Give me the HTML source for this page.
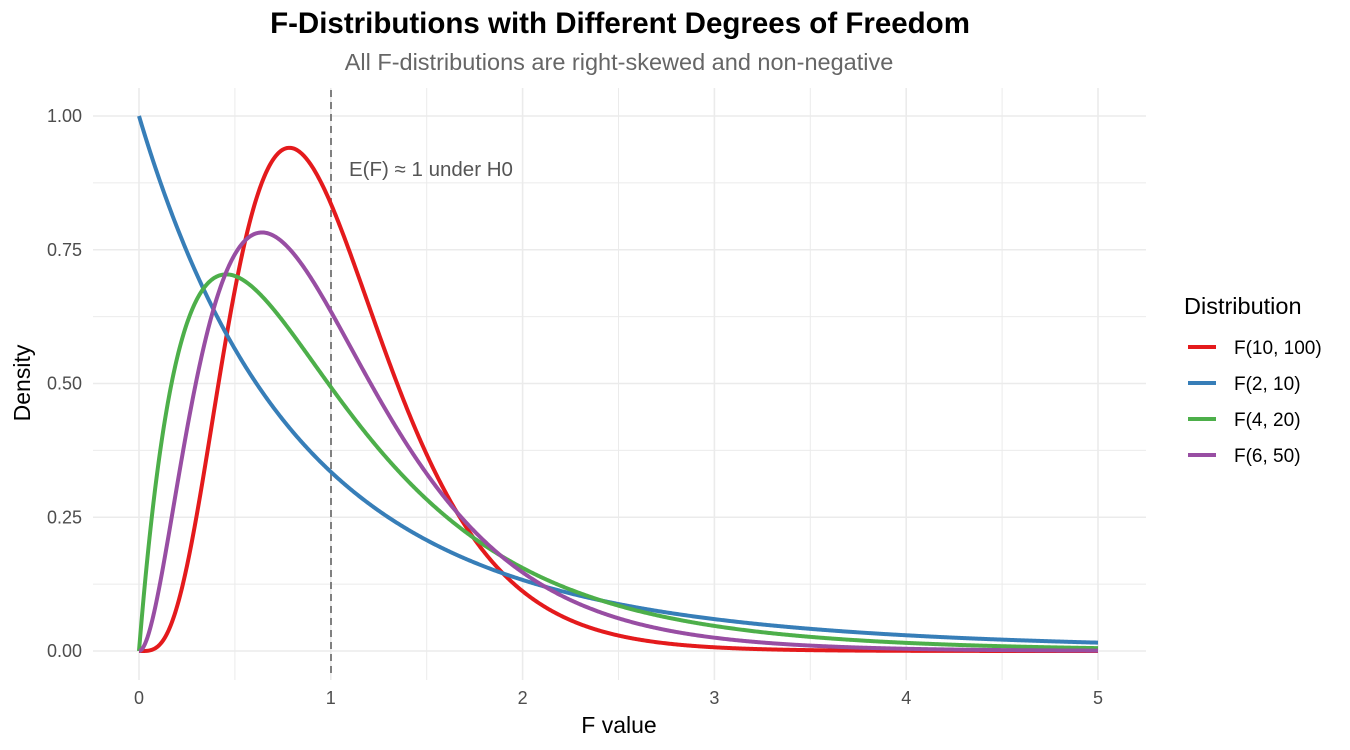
<!DOCTYPE html>
<html><head><meta charset="utf-8"><style>body{margin:0;background:#fff}svg{display:block}text{font-family:"Liberation Sans",Arial,sans-serif}</style></head>
<body>
<svg id="s" width="1350" height="750" xmlns="http://www.w3.org/2000/svg">
<g id="grid"></g>
<line x1="331" y1="90" x2="331" y2="678" stroke="#808080" stroke-width="2" stroke-dasharray="7,5"/>
<text x="349" y="176" font-size="20.5" fill="#555">E(F) ≈ 1 under H0</text>
<g id="curves"></g>
<text x="620" y="33" font-size="29.5" font-weight="bold" text-anchor="middle" fill="#000">F-Distributions with Different Degrees of Freedom</text>
<text x="619" y="70" font-size="23.5" text-anchor="middle" fill="#666">All F-distributions are right-skewed and non-negative</text>
<text x="619" y="733" font-size="23" text-anchor="middle" fill="#000">F value</text>
<text x="30" y="383" font-size="23" text-anchor="middle" fill="#000" transform="rotate(-90 30 383)">Density</text>
<text x="1184" y="314" font-size="23.5" fill="#000">Distribution</text>
<g id="legend"></g>
</svg>
<script>
const X0=139,XS=191.8,Y0=651,YS=535;
const px=x=>X0+x*XS, py=y=>Y0-y*YS;
let g='';
for(let i=0;i<=10;i++){const v=i/2,x=px(v);g+=`<line x1="${x}" y1="88" x2="${x}" y2="680" stroke="#ebebeb" stroke-width="${i%2?1:1.6}"/>`;}
for(let i=0;i<=8;i++){const v=i/8,y=py(v);g+=`<line x1="93" y1="${y}" x2="1146" y2="${y}" stroke="#ebebeb" stroke-width="${i%2?1:1.6}"/>`;}
for(let i=0;i<=5;i++)g+=`<text x="${px(i)}" y="704" font-size="18" text-anchor="middle" fill="#4d4d4d">${i}</text>`;
['0.00','0.25','0.50','0.75','1.00'].forEach((t,i)=>g+=`<text x="82" y="${py(i/4)+6}" font-size="18" text-anchor="end" fill="#4d4d4d">${t}</text>`);
document.getElementById('grid').innerHTML=g;
function lg(z){const c=[76.18009172947146,-86.50532032941677,24.01409824083091,-1.231739572450155,0.1208650973866179e-2,-0.5395239384953e-5];let x=z,y=z,t=x+5.5;t-=(x+0.5)*Math.log(t);let s=1.000000000190015;for(let j=0;j<6;j++)s+=c[j]/++y;return -t+Math.log(2.5066282746310005*s/x);}
function f(x,a,b){if(x<=0)return a==2?1:0;const lb=lg(a/2)+lg(b/2)-lg((a+b)/2);return Math.exp(0.5*(a*Math.log(a*x)+b*Math.log(b)-(a+b)*Math.log(a*x+b))-Math.log(x)-lb);}
const S=[[10,100,'#e41a1c','F(10, 100)'],[2,10,'#377eb8','F(2, 10)'],[4,20,'#4daf4a','F(4, 20)'],[6,50,'#984ea3','F(6, 50)']];
let c='',l='';
S.forEach((s,k)=>{let d='';for(let i=0;i<=1000;i++){const x=i*0.005;d+=(i?'L':'M')+px(x).toFixed(2)+','+py(f(x,s[0],s[1])).toFixed(2);}
c+=`<path d="${d}" fill="none" stroke="${s[2]}" stroke-width="4"/>`;
const y=347+36*k;l+=`<line x1="1188" y1="${y}" x2="1216" y2="${y}" stroke="${s[2]}" stroke-width="4"/><text x="1234" y="${y+7}" font-size="19" fill="#000">${s[3]}</text>`;});
document.getElementById('curves').innerHTML=c;document.getElementById('legend').innerHTML=l;
</script>
</body></html>
